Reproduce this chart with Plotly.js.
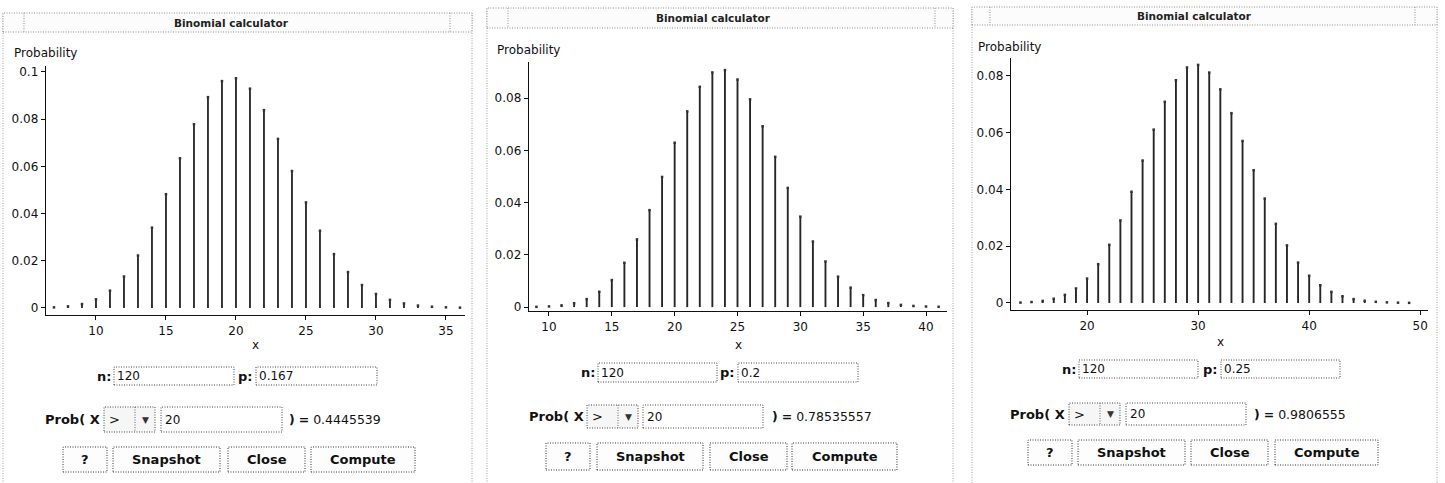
<!DOCTYPE html>
<html>
<head>
<meta charset="utf-8">
<script src="https://cdn.plot.ly/plotly-3.0.1.min.js"></script>
<style>html,body{margin:0;padding:0;background:#fff;}#chart{width:1445px;height:483px;}</style>
</head>
<body>
<div id="chart"></div>
<script>
// ---------------- data ----------------
const windowTitle = "Binomial calculator";
const yAxisName = "Probability";
const xAxisName = "x";

const x1 = [7,8,9,10,11,12,13,14,15,16,17,18,19,20,21,22,23,24,25,26,27,28,29,30,31,32,33,34,35,36];
const prob1 = [0.00023,0.00066,0.00164,0.00365,0.00732,0.0133,0.0222,0.0340,0.0482,0.0634,0.0778,0.0893,0.0961,0.0973,0.0929,0.0838,0.0716,0.0580,0.0447,0.0327,0.0228,0.0152,0.0097,0.0059,0.0034,0.0019,0.0010,0.0005,0.00026,0.00012];

const x2 = [9,10,11,12,13,14,15,16,17,18,19,20,21,22,23,24,25,26,27,28,29,30,31,32,33,34,35,36,37,38,39,40,41];
const prob2 = [0.00009,0.00026,0.00065,0.00147,0.00306,0.00585,0.01033,0.01695,0.0259,0.0371,0.0498,0.0629,0.0749,0.0843,0.0898,0.0907,0.0871,0.0795,0.0692,0.0575,0.0456,0.0346,0.0251,0.01745,0.01163,0.00744,0.00457,0.0027,0.00153,0.00084,0.00044,0.00022,0.00011];

const x3 = [14,15,16,17,18,19,20,21,22,23,24,25,26,27,28,29,30,31,32,33,34,35,36,37,38,39,40,41,42,43,44,45,46,47,48,49];
const prob3 = [0.00014,0.00034,0.00074,0.0015,0.00286,0.00512,0.00861,0.01367,0.0205,0.0291,0.0392,0.0502,0.0611,0.0709,0.0785,0.0830,0.0839,0.0812,0.0753,0.0669,0.0571,0.0468,0.0368,0.0279,0.0203,0.01423,0.00961,0.00625,0.00392,0.00237,0.00138,0.00078,0.00042,0.00022,0.00011,0.00005];

const xTicks1 = [10,15,20,25,30,35];
const xTicks2 = [10,15,20,25,30,35,40];
const xTicks3 = [20,30,40,50];
const yTicks1 = [0,0.02,0.04,0.06,0.08,0.1];
const yTickText1 = ["0","0.02","0.04","0.06","0.08","0.1"];
const yTicks23 = [0,0.02,0.04,0.06,0.08];
const yTickText23 = ["0","0.02","0.04","0.06","0.08"];

const nValues = ["120","120","120"];
const pValues = ["0.167","0.2","0.25"];
const opValues = [">",">",">"];
const thresholdValues = ["20","20","20"];
const resultValues = ["0.4445539","0.78535557","0.9806555"];
const buttonLabels = ["?","Snapshot","Close","Compute"];

// ---------------- layout geometry (pixels) ----------------
const W = 1445, H = 483;
const UI = [
 {win:[3,472,13,32], titleX:231, lbox:24, rbox:450,
  plot:[46,465,66,315], xr:[6.43,36.36], yr:[-0.003,0.1025],
  probLbl:[12,53], xlbl:[255,345],
  nLbl:113, nBox:[114,234,367,385], pLbl:255, pBox:[256,377],
  probY:[407,432], probX:43, combo:[104,155], comboDiv:135, tBox:[161,282], resX:287,
  btnY:[447,472], btns:[[63,107],[113,220],[228,305],[311,415]], barW:0.13},
 {win:[487,953,8,28], titleX:713, lbox:508, rbox:935,
  plot:[529,947,62,311], xr:[8.41,41.67], yr:[-0.0015,0.0938],
  probLbl:[495,50], xlbl:[738,345],
  nLbl:597, nBox:[598,717,363,382], pLbl:737, pBox:[738,858],
  probY:[405,428], probX:527, combo:[587,638], comboDiv:618, tBox:[643,763], resX:770,
  btnY:[443,470], btns:[[546,590],[597,703],[710,787],[792,897]], barW:0.15},
 {win:[972,1437,7,25], titleX:1194, lbox:990, rbox:1415,
  plot:[1011,1428,58,310], xr:[13.15,50.7], yr:[-0.00247,0.08634],
  probLbl:[976,47], xlbl:[1220,342],
  nLbl:1078, nBox:[1079,1198,360,378], pLbl:1220, pBox:[1221,1340],
  probY:[403,425], probX:1008, combo:[1069,1120], comboDiv:1100, tBox:[1126,1246], resX:1252,
  btnY:[440,465], btns:[[1028,1072],[1078,1185],[1191,1268],[1275,1378]], barW:0.17}
];

const X = p => p / W;
const Y = p => 1 - p / H;
const FONT = "DejaVu Sans, Liberation Sans, sans-serif";
const FINE = "1px,1.5px";

const xs = [x1,x2,x3], ps = [prob1,prob2,prob3];
const xTicks = [xTicks1,xTicks2,xTicks3];
const yTicks = [yTicks1,yTicks23,yTicks23];
const yTickTexts = [yTickText1,yTickText23,yTickText23];

const data = [];
const layout = {
  width: W, height: H,
  margin: {l:0,r:0,t:0,b:0},
  paper_bgcolor: "#fff", plot_bgcolor: "rgba(0,0,0,0)",
  showlegend: false, hovermode: false,
  font: {family: FONT, size: 12, color: "#111"},
  shapes: [], annotations: []
};

function rect(x0,x1,y0,y1,color,dash,width,fill){
  layout.shapes.push({type:"rect", xref:"paper", yref:"paper",
    x0:X(x0), x1:X(x1), y0:Y(y1), y1:Y(y0),
    line:{color:color, width:width||1, dash:dash||"solid"},
    fillcolor: fill || "rgba(0,0,0,0)", layer:"below"});
}
function line(x0,y0,x1,y1,color,dash,width){
  layout.shapes.push({type:"line", xref:"paper", yref:"paper",
    x0:X(x0), x1:X(x1), y0:Y(y0), y1:Y(y1),
    line:{color:color, width:width||1, dash:dash||"solid"}, layer:"below"});
}
function text(t,x,y,opts){
  opts = opts || {};
  layout.annotations.push({text:t, xref:"paper", yref:"paper", x:X(x), y:Y(y),
    xanchor: opts.xanchor || "left", yanchor: "middle", showarrow:false,
    font:{family:FONT, size:opts.size||12, color:opts.color||"#111"}});
}

UI.forEach((u,i) => {
  const k = i === 0 ? "" : String(i+1);
  // stems
  data.push({type:"bar", x: xs[i], y: ps[i], width: u.barW,
    marker:{color:"#262626", line:{width:0}},
    xaxis:"x"+k, yaxis:"y"+k});
  data.push({type:"scatter", mode:"markers", x: xs[i], y: ps[i],
    marker:{symbol:"square", size:2.5, color:"#333"},
    xaxis:"x"+k, yaxis:"y"+k});
  const ax = {
    domain:[X(u.plot[0]), X(u.plot[1])], range:u.xr,
    showline:true, linecolor:"#111", linewidth:1.3, mirror:false,
    ticks:"outside", ticklen:4, tickcolor:"#111",
    tickmode:"array", tickvals: xTicks[i], showgrid:false, zeroline:false,
    tickfont:{family:FONT, size:12, color:"#111"},
    anchor:"y"+k, fixedrange:true
  };
  const ay = {
    domain:[Y(u.plot[3]), Y(u.plot[2])], range:u.yr,
    showline:true, linecolor:"#111", linewidth:1.3,
    ticks:"outside", ticklen:4, tickcolor:"#111",
    tickmode:"array", tickvals: yTicks[i], ticktext: yTickTexts[i],
    showgrid:false, zeroline:false,
    tickfont:{family:FONT, size:12, color:"#111"},
    anchor:"x"+k, fixedrange:true
  };
  layout["xaxis"+k] = ax;
  layout["yaxis"+k] = ay;

  // window frame
  const [wl,wr,tt,tb] = u.win;
  line(wl,tt,wl,H,"#a0a0a0",FINE,1);
  line(wr,tt,wr,H,"#a0a0a0",FINE,1);
  rect(wl,wr,tt,tb,"#909090",FINE,1,"#fcfcfc");
  line(u.lbox,tt,u.lbox,tb,"#909090",FINE,1);
  line(u.rbox,tt,u.rbox,tb,"#909090",FINE,1);
  text("<b>"+windowTitle+"</b>", u.titleX, (tt+tb)/2, {xanchor:"center", size:10.5, color:"#222"});

  // axis names
  text(yAxisName, u.probLbl[0], u.probLbl[1], {size:12});
  text(xAxisName, u.xlbl[0], u.xlbl[1], {xanchor:"center", size:12});

  // n and p fields
  const nb = u.nBox;
  text("<b>n:</b>", u.nLbl, (nb[2]+nb[3])/2, {xanchor:"right", size:13});
  rect(nb[0],nb[1],nb[2],nb[3],"#444",FINE,1,"#fff");
  text(nValues[i], nb[0]+1, (nb[2]+nb[3])/2);
  text("<b>p:</b>", u.pLbl, (nb[2]+nb[3])/2, {xanchor:"right", size:13});
  rect(u.pBox[0],u.pBox[1],nb[2],nb[3],"#444",FINE,1,"#fff");
  text(pValues[i], u.pBox[0]+1, (nb[2]+nb[3])/2);

  // probability row
  const py0 = u.probY[0], py1 = u.probY[1], pym = (py0+py1)/2;
  text("<b>Prob( X</b>", u.probX, pym, {size:13});
  rect(u.combo[0],u.combo[1],py0,py1,"#444",FINE,1,"#f6f6f6");
  line(u.comboDiv,py0,u.comboDiv,py1,"#666",FINE,1);
  text(opValues[i].replace(">","&gt;"), u.combo[0]+3, pym, {size:13});
  text("▼", (u.comboDiv+u.combo[1])/2, pym, {xanchor:"center", size:9, color:"#333"});
  rect(u.tBox[0],u.tBox[1],py0,py1,"#444",FINE,1,"#fff");
  text(thresholdValues[i], u.tBox[0]+2, pym);
  text("<b>)</b> <b>=</b> " + resultValues[i], u.resX, pym, {size:12.5});

  // buttons
  u.btns.forEach((b,j) => {
    rect(b[0],b[1],u.btnY[0],u.btnY[1],"#333",FINE,1,"#fdfdfd");
    text("<b>"+buttonLabels[j]+"</b>", (b[0]+b[1])/2, (u.btnY[0]+u.btnY[1])/2, {xanchor:"center", size:13});
  });
});

Plotly.newPlot("chart", data, layout, {staticPlot:true, displayModeBar:false});
</script>
</body>
</html>
